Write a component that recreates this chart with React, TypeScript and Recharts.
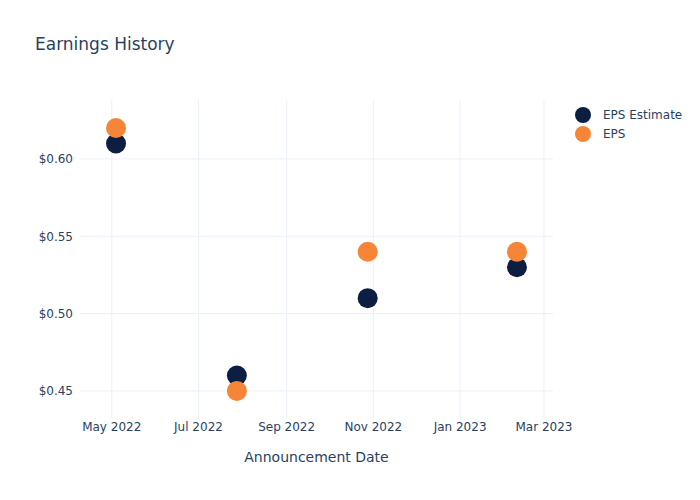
import { ScatterChart, Scatter, XAxis, YAxis, ReferenceLine } from "recharts";

const announceDates = ["2022-05-04", "2022-07-28", "2022-10-28", "2023-02-10"];
const epsEstimate = [0.61, 0.46, 0.51, 0.53];
const epsActual = [0.62, 0.45, 0.54, 0.54];
const xTickDates = ["2022-05-01", "2022-07-01", "2022-09-01", "2022-11-01", "2023-01-01", "2023-03-01"];
const yTicks = [0.45, 0.5, 0.55, 0.6];
const monthNames = ["Jan", "Feb", "Mar", "Apr", "May", "Jun", "Jul", "Aug", "Sep", "Oct", "Nov", "Dec"];

const ts = (s: string) => new Date(s + "T00:00:00Z").getTime();

const estData = announceDates.map((d, i) => ({ x: ts(d), y: epsEstimate[i] }));
const epsData = announceDates.map((d, i) => ({ x: ts(d), y: epsActual[i] }));

const NAVY = "#0c1f43";
const ORANGE = "#f68537";
const TEXT = "#2a3f5f";
const GRID = "#ebf0f8";
const FONT = "'DejaVu Sans', 'Open Sans', sans-serif";

const dot = (color: string) => (p: any) => <circle cx={p.cx} cy={p.cy} r={10} fill={color} />;

export default function App() {
  return (
    <div style={{ position: "absolute", left: 0, top: 0, width: 700, height: 500, background: "#fff", fontFamily: FONT }}>
      <div style={{ position: "absolute", left: 35, top: 34, fontSize: 17, color: TEXT }}>Earnings History</div>
      <ScatterChart width={700} height={500} margin={{ top: 100, right: 147, bottom: 52, left: 0 }}>
        <XAxis
          type="number"
          dataKey="x"
          domain={[ts("2022-04-08") + 16 * 3600e3, ts("2023-03-07") + 8 * 3600e3]}
          ticks={xTickDates.map(ts)}
          tickFormatter={(v: number) => { const d = new Date(v); return `${monthNames[d.getUTCMonth()]} ${d.getUTCFullYear()}`; }}
          axisLine={false}
          tickLine={false}
          tickSize={0}
          tickMargin={4}
          height={30}
          tick={{ fontSize: 12, fill: TEXT, fontFamily: FONT }}
          allowDataOverflow
        />
        <YAxis
          type="number"
          dataKey="y"
          domain={[0.4325, 0.6381]}
          ticks={yTicks}
          tickFormatter={(v: number) => `$${v.toFixed(2)}`}
          axisLine={false}
          tickLine={false}
          tickSize={0}
          tickMargin={7}
          width={80}
          tick={{ fontSize: 12, fill: TEXT, fontFamily: FONT }}
          allowDataOverflow
        />
        {xTickDates.map((d) => (
          <ReferenceLine key={d} x={ts(d)} stroke={GRID} strokeWidth={1} />
        ))}
        {yTicks.map((v) => (
          <ReferenceLine key={v} y={v} stroke={GRID} strokeWidth={1} />
        ))}
        <Scatter name="EPS Estimate" data={estData} fill={NAVY} shape={dot(NAVY)} isAnimationActive={false} />
        <Scatter name="EPS" data={epsData} fill={ORANGE} shape={dot(ORANGE)} isAnimationActive={false} />
      </ScatterChart>
      <div style={{ position: "absolute", left: 0, width: 633, top: 449, textAlign: "center", fontSize: 14, color: TEXT }}>
        Announcement Date
      </div>
      <div style={{ position: "absolute", left: 575, top: 105, fontSize: 12, color: TEXT }}>
        {[{ label: "EPS Estimate", color: NAVY }, { label: "EPS", color: ORANGE }].map((it) => (
          <div key={it.label} style={{ display: "flex", alignItems: "center", height: 19 }}>
            <span style={{ width: 16, height: 16, borderRadius: 8, background: it.color, display: "inline-block", marginRight: 12 }} />
            <span>{it.label}</span>
          </div>
        ))}
      </div>
    </div>
  );
}
